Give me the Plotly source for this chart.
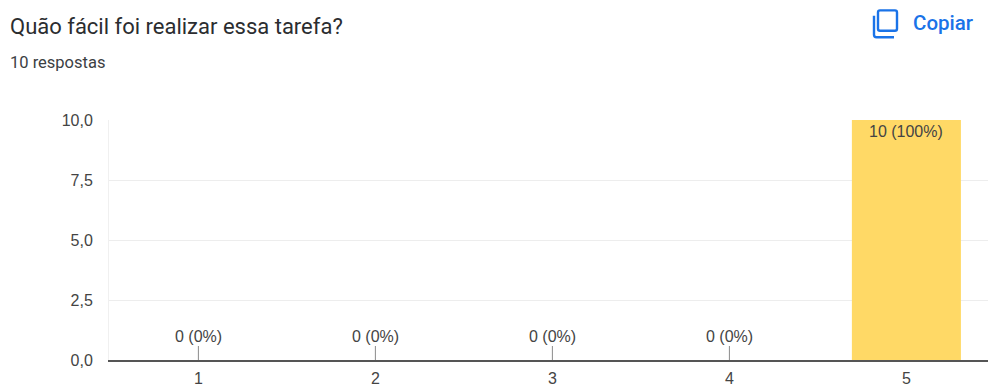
import plotly.graph_objects as go

title_text = "Quão fácil foi realizar essa tarefa?"
subtitle_text = "10 respostas"
copy_text = "Copiar"
categories = ["1", "2", "3", "4", "5"]
values = [0, 0, 0, 0, 10]
labels = ["0 (0%)", "0 (0%)", "0 (0%)", "0 (0%)", "10 (100%)"]
y_ticks = [0, 2.5, 5, 7.5, 10]

W, H = 988, 387
L, R, T, B = 109, 0, 120, 25
TXT = "#444444"
BLUE = "#1a73e8"

def px(x):
    return (x - L) / (W - L - R)

def py(y):
    return (H - B - y) / (H - T - B)

def rounded_path(x0, y0, x1, y1, r):
    return (f"M {px(x0 + r)} {py(y0)} L {px(x1 - r)} {py(y0)} Q {px(x1)} {py(y0)} {px(x1)} {py(y0 + r)} "
            f"L {px(x1)} {py(y1 - r)} Q {px(x1)} {py(y1)} {px(x1 - r)} {py(y1)} "
            f"L {px(x0 + r)} {py(y1)} Q {px(x0)} {py(y1)} {px(x0)} {py(y1 - r)} "
            f"L {px(x0)} {py(y0 + r)} Q {px(x0)} {py(y0)} {px(x0 + r)} {py(y0)} Z")

fig = go.Figure(go.Bar(
    x=list(range(len(categories))), y=values,
    marker=dict(color="#ffd966", line=dict(width=0)),
    width=0.616, hoverinfo="skip",
))

annotations = []
for i, (v, lab) in enumerate(zip(values, labels)):
    if v == 0:
        annotations.append(dict(x=i, y=v, xref="x", yref="y", text=lab, showarrow=True,
                                arrowhead=0, arrowwidth=1, arrowcolor="#8a8a8a",
                                ax=0, ay=-24, standoff=0, startstandoff=0,
                                font=dict(family="Liberation Sans", size=16, color=TXT)))
    else:
        annotations.append(dict(x=i, y=v, xref="x", yref="y", text=lab, showarrow=False,
                                yanchor="top", yshift=-1,
                                font=dict(family="Liberation Sans", size=16, color=TXT)))

annotations += [
    dict(x=px(10), y=py(26), xref="paper", yref="paper", xanchor="left", yanchor="middle",
         text=title_text, showarrow=False, xshift=-2,
         font=dict(family="Roboto", size=22, color="#2b2d30")),
    dict(x=px(10), y=py(62), xref="paper", yref="paper", xanchor="left", yanchor="middle",
         text=subtitle_text, showarrow=False, xshift=-2,
         font=dict(family="Roboto", size=16.5, color="#3c4043")),
    dict(x=px(913), y=py(22.5), xref="paper", yref="paper", xanchor="left", yanchor="middle",
         text=copy_text, showarrow=False, xshift=-2,
         font=dict(family="Roboto", size=20.5, color=BLUE, weight=500)),
]

shapes = [
    dict(type="path", xref="paper", yref="paper", line=dict(color=BLUE, width=2.4),
         path=rounded_path(878, 9.5, 897, 30, 2)),
    dict(type="path", xref="paper", yref="paper", line=dict(color=BLUE, width=2.4),
         path=f"M {px(874)} {py(15)} L {px(874)} {py(34)} Q {px(874)} {py(36.5)} {px(876.5)} {py(36.5)} L {px(894)} {py(36.5)}"),
]

fig.update_layout(
    width=W, height=H, autosize=False,
    margin=dict(l=L, r=R, t=T, b=B, pad=0),
    paper_bgcolor="white", plot_bgcolor="white",
    separators=", ",
    showlegend=False,
    annotations=annotations, shapes=shapes,
    xaxis=dict(range=[-0.505, 4.461], tickvals=list(range(len(categories))), ticktext=categories,
               showgrid=False, zeroline=False, showline=True, linecolor="#555555", linewidth=1.5,
               ticks="", ticklen=0, fixedrange=True, ticklabelstandoff=3,
               tickfont=dict(family="Liberation Sans", size=16, color=TXT)),
    yaxis=dict(range=[0, 10], tickvals=y_ticks, tickformat=".1f",
               showgrid=True, gridcolor="#ededed", gridwidth=1, zeroline=False,
               showline=True, linecolor="#f0f0f0", linewidth=1, ticks="", fixedrange=True,
               ticklabelstandoff=12,
               tickfont=dict(family="Liberation Sans", size=16, color=TXT)),
)

fig.write_html("out.html", config=dict(displayModeBar=False),
               post_script="document.body.style.margin='0';document.documentElement.style.overflow='hidden';")
